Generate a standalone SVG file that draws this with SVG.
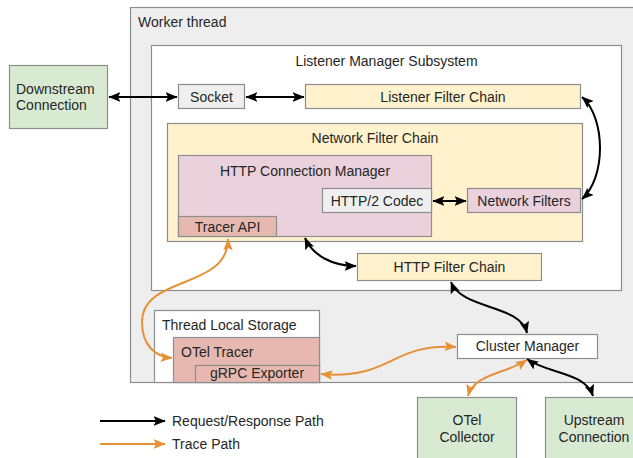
<svg xmlns="http://www.w3.org/2000/svg" width="633" height="458" viewBox="0 0 633 458">
<style>
text{font-family:"Liberation Sans",Arial,sans-serif;font-size:14px;fill:#262626}
.c{text-anchor:middle}
.box{stroke:#8e8e8e;stroke-width:1.2}
.g{fill:#d9ead3}.y{fill:#fff2cc}.p{fill:#ead1dc}.r{fill:#e6b8af}.l{fill:#efefef}.w{fill:#ffffff}
.bk{fill:none;stroke:#000;stroke-width:2;marker-start:url(#ab);marker-end:url(#ab)}
.or{fill:none;stroke:#e69138;stroke-width:2;marker-start:url(#ao);marker-end:url(#ao)}
</style>
<defs>
<marker id="ab" viewBox="0 0 10 8" refX="9.5" refY="4" markerWidth="12" markerHeight="10" markerUnits="userSpaceOnUse" orient="auto-start-reverse"><path d="M0,0 L10,4 L0,8 L2,4z" fill="#000"/></marker>
<marker id="ao" viewBox="0 0 10 8" refX="9.5" refY="4" markerWidth="12" markerHeight="10" markerUnits="userSpaceOnUse" orient="auto-start-reverse"><path d="M0,0 L10,4 L0,8 L2,4z" fill="#e69138"/></marker>
</defs>
<rect width="633" height="458" fill="#ffffff"/>
<g id="worker-thread"><rect class="box" x="130.5" y="7.5" width="520" height="375" fill="#eeeeee"/><text x="138" y="27">Worker thread</text></g>
<g id="listener-manager"><rect class="box w" x="151.5" y="45.5" width="470" height="245"/><text class="c" x="386.5" y="66">Listener Manager Subsystem</text></g>
<g id="downstream"><rect class="box g" x="9.5" y="65.5" width="98" height="63"/><text x="16" y="94">Downstream</text><text x="16" y="110">Connection</text></g>
<g id="socket"><rect class="box l" x="178.5" y="84.5" width="66" height="24"/><text class="c" x="211.5" y="102">Socket</text></g>
<g id="listener-filter-chain"><rect class="box y" x="305.5" y="84.5" width="275" height="24"/><text class="c" x="443" y="102">Listener Filter Chain</text></g>
<g id="network-filter-chain"><rect class="box y" x="167.5" y="123.5" width="415" height="118"/><text class="c" x="375" y="143">Network Filter Chain</text></g>
<g id="http-connection-manager"><rect class="box p" x="178.5" y="155.5" width="253" height="81"/><text class="c" x="305" y="176">HTTP Connection Manager</text></g>
<g id="tracer-api"><rect class="box r" x="178.5" y="216.5" width="98" height="20"/><text class="c" x="227.5" y="232">Tracer API</text></g>
<g id="http2-codec"><rect class="box l" x="322.5" y="188.5" width="109" height="24"/><text class="c" x="377" y="206">HTTP/2 Codec</text></g>
<g id="network-filters"><rect class="box p" x="467.5" y="188.5" width="113" height="24"/><text class="c" x="524" y="206">Network Filters</text></g>
<g id="http-filter-chain"><rect class="box y" x="357.5" y="253.5" width="184" height="27"/><text class="c" x="449.5" y="272">HTTP Filter Chain</text></g>
<g id="thread-local-storage"><rect class="box w" x="154.5" y="310.5" width="165" height="72"/><text x="162" y="330">Thread Local Storage</text></g>
<g id="otel-tracer"><rect class="box r" x="173.5" y="337.5" width="146" height="45"/><text x="181" y="357">OTel Tracer</text></g>
<g id="grpc-exporter"><rect class="box r" x="195.5" y="365.5" width="124" height="17"/><text class="c" x="257" y="378">gRPC Exporter</text></g>
<g id="cluster-manager"><rect class="box w" x="457.5" y="334.5" width="140" height="24"/><text class="c" x="527.5" y="351">Cluster Manager</text></g>
<g id="otel-collector"><rect class="box g" x="417.5" y="397.5" width="99" height="70"/><text class="c" x="467" y="425">OTel</text><text class="c" x="467" y="442">Collector</text></g>
<g id="upstream"><rect class="box g" x="545.5" y="397.5" width="98" height="70"/><text class="c" x="594" y="425">Upstream</text><text class="c" x="594" y="442">Connection</text></g>
<g id="connectors">
<path class="bk" d="M109 97 L177 97"/>
<path class="bk" d="M246 97 L304 97"/>
<path class="bk" d="M582 97 C606 118 606 178 582 199"/>
<path class="bk" d="M433 201 L466 201"/>
<path class="bk" d="M305 238 C313 256 333 266 356 266"/>
<path class="bk" d="M451 282 C462 310 520 304 527 333"/>
<path class="bk" d="M527 359 C548 374 585 372 593 396"/>
<path class="or" d="M527 360 C505 374 474 374 468 396"/>
<path class="or" d="M321 374 C392 380 390 343 456 347"/>
<path class="or" d="M228 239 C228 290 142 275 142 322 C142 345 155 357 172 358"/>
</g>
<g id="legend">
<path d="M100 421 L165 421" stroke="#000" stroke-width="2" marker-end="url(#ab)"/>
<text x="172" y="426">Request/Response Path</text>
<path d="M100 444 L165 444" stroke="#e69138" stroke-width="2" marker-end="url(#ao)"/>
<text x="172" y="449">Trace Path</text>
</g>
</svg>
